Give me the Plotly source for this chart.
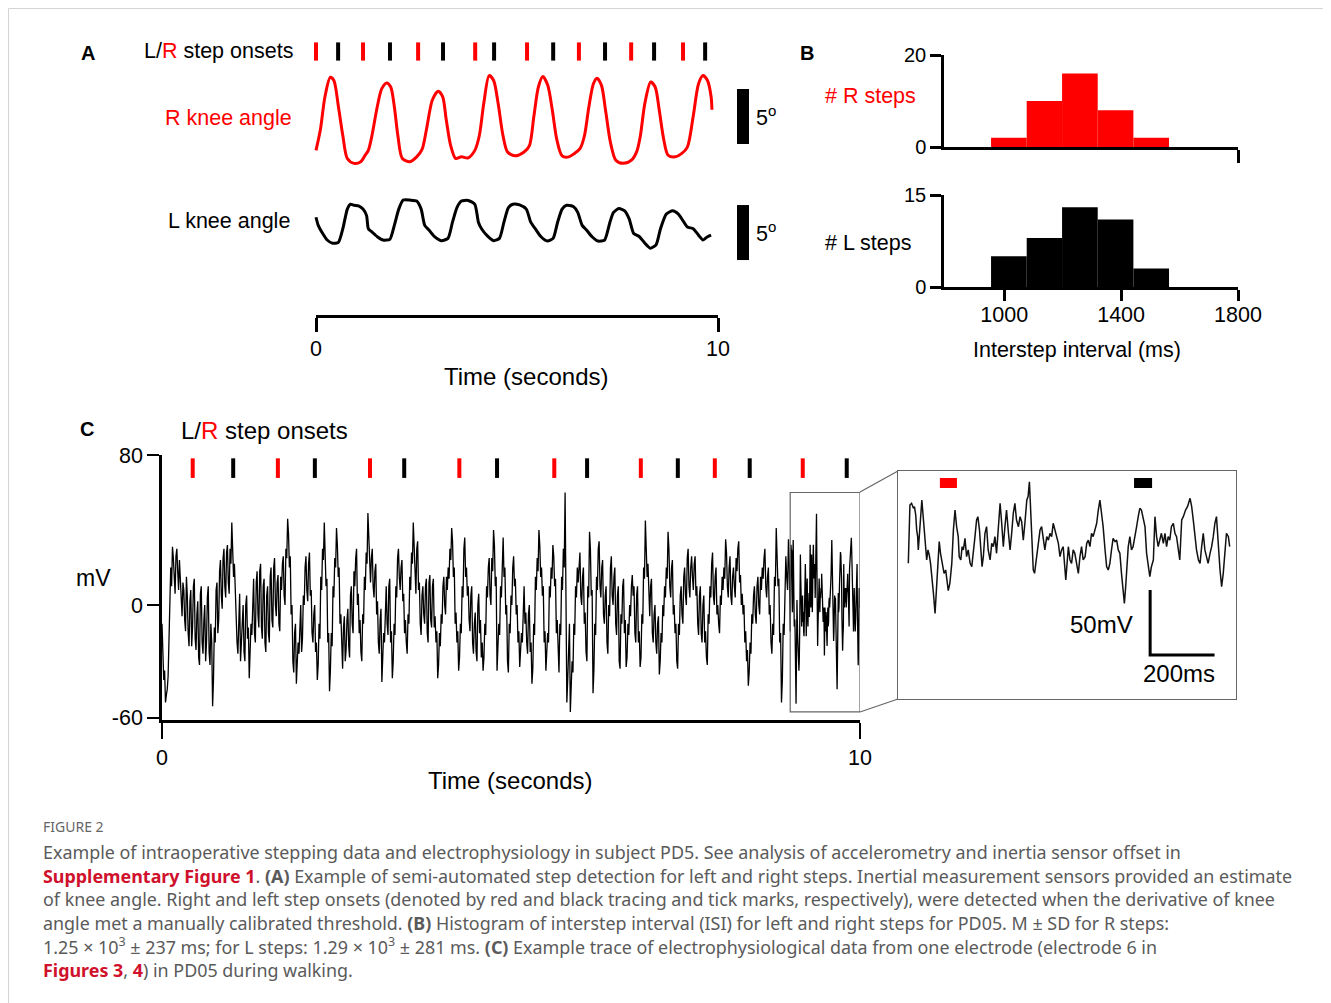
import numpy as np
import plotly.graph_objects as go

# The page body has an 8 px margin, so the figure is drawn at (8, 8).
OFF = 8
W, H = 1331 - OFF, 1003 - OFF

# ---------------- DATA ----------------
# Panel A: step onsets (s)
a_onsets_r = [0.0, 1.17, 2.54, 3.96, 5.25, 6.54, 7.84, 9.13]
a_onsets_l = [0.55, 1.84, 3.16, 4.43, 5.90, 7.19, 8.41, 9.68]

# R knee angle (s, deg)
r_knee_t = [0.000, 0.111, 0.223, 0.356, 0.445, 0.557, 0.668, 0.779, 0.946, 1.113, 1.224, 1.302, 1.391, 1.525,
            1.636, 1.759, 1.859, 1.948, 2.037, 2.148, 2.337, 2.504, 2.638, 2.749, 2.894, 3.038, 3.150, 3.239,
            3.350, 3.473, 3.617, 3.784, 3.951, 4.062, 4.174, 4.307, 4.419, 4.530, 4.652, 4.764, 4.953, 5.175,
            5.309, 5.420, 5.532, 5.643, 5.765, 5.877, 5.988, 6.122, 6.288, 6.422, 6.567, 6.678, 6.789, 6.901,
            6.990, 7.101, 7.201, 7.324, 7.457, 7.646, 7.847, 7.980, 8.069, 8.181, 8.325, 8.437, 8.537, 8.648,
            8.759, 8.937, 9.093, 9.238, 9.383, 9.516, 9.627, 9.739, 9.828, 9.850]
r_knee_deg = [1.33, 3.25, 6.21, 7.98, 7.68, 5.32, 2.66, 0.59, 0.15, 0.30, 0.89, 1.33, 2.66, 5.32,
              6.94, 7.45, 7.09, 5.32, 2.66, 0.59, 0.30, 0.74, 1.42, 3.25, 5.91, 6.71, 6.21, 4.14,
              1.77, 0.59, 0.74, 0.65, 1.33, 2.66, 5.61, 8.13, 7.68, 5.61, 2.66, 1.18, 0.83, 1.18,
              1.77, 4.43, 7.09, 8.04, 7.24, 5.02, 2.36, 0.83, 0.74, 1.03, 1.48, 2.66, 5.32, 7.39,
              7.89, 7.24, 5.02, 2.07, 0.44, 0.15, 0.44, 1.24, 2.66, 5.61, 7.54, 7.09, 5.02, 2.36,
              0.89, 0.74, 1.03, 1.63, 4.43, 7.39, 8.13, 7.68, 6.21, 5.02]

# L knee angle (s, deg)
l_knee_t = [0.000, 0.056, 0.167, 0.278, 0.412, 0.557, 0.668, 0.779, 0.857, 0.946, 1.057, 1.169, 1.258, 1.302,
            1.391, 1.525, 1.670, 1.836, 1.948, 2.059, 2.170, 2.337, 2.504, 2.616, 2.705, 2.816, 2.949, 3.116,
            3.283, 3.395, 3.506, 3.617, 3.784, 3.951, 4.040, 4.118, 4.263, 4.419, 4.563, 4.675, 4.786, 4.897,
            5.064, 5.231, 5.342, 5.454, 5.598, 5.754, 5.899, 6.010, 6.122, 6.233, 6.400, 6.511, 6.622, 6.734,
            6.867, 7.012, 7.179, 7.312, 7.401, 7.535, 7.680, 7.791, 7.902, 8.047, 8.181, 8.314, 8.459, 8.570,
            8.715, 8.871, 9.015, 9.127, 9.238, 9.383, 9.516, 9.627, 9.739, 9.828]
l_knee_deg = [3.25, 2.51, 1.77, 1.18, 0.89, 0.97, 2.21, 3.99, 4.43, 4.34, 4.28, 3.99, 3.40, 2.21,
              1.92, 1.48, 1.18, 1.24, 2.51, 3.99, 4.81, 4.81, 4.72, 3.99, 2.51, 2.07, 1.48, 1.12,
              1.33, 2.80, 4.13, 4.72, 4.78, 4.43, 2.80, 2.21, 1.56, 1.12, 1.33, 2.80, 4.13, 4.43,
              4.37, 3.99, 2.80, 2.21, 1.48, 1.09, 1.33, 2.80, 3.99, 4.34, 4.22, 3.69, 2.51, 2.07,
              1.48, 1.09, 1.18, 2.80, 3.69, 4.04, 3.84, 3.10, 1.77, 1.48, 0.89, 0.44, 0.74, 2.21,
              3.54, 3.84, 3.54, 2.95, 2.36, 2.21, 1.62, 1.18, 1.48, 1.62]

# Panel B: ISI histograms
isi_bin_centers_ms = [1016, 1138, 1259, 1381, 1503]
isi_bin_width_ms = 122
r_step_counts = [2, 10, 16, 8, 2]
l_step_counts = [5, 8, 13, 11, 3]

# Panel C: step onsets (s)
c_onsets_r = [0.44, 1.66, 2.98, 4.26, 5.62, 6.86, 7.92, 9.18]
c_onsets_l = [1.02, 2.19, 3.47, 4.80, 6.09, 7.39, 8.42, 9.81]

# Panel C: voltage trace 0-9 s, samples on the 25 ms grid (mV)
ephys_grid_mv = [
    -10, -40, -52, -45, -20, 20, 31, 12, 26, 18, 24, 5, 12, -8, 15, -15, 2, -22, 10, -18, -5, -28, 6, -20, -8, -30, 4, -25, -10, -54, -12, 8, -15, 18, 5, 25, 10, 28, 12, 30,
    44, 15, 5, -20, 2, -30, -8, -25, 0, -18, -39, -10, 8, -15, 12, -5, 18, -12, 10, -20, 5, -15, 15, -8, 20, 0, 12, -10, 15, 22, 5, 30, 46, 20, -5, -30, -15, -42, -20, -5,
    -25, 5, 20, 8, 22, 5, -15, -5, -25, -40, -10, 15, 30, 44, 10, -20, -46, -15, 10, 25, 41, 15, -10, -28, -12, -30, -8, -22, 5, -10, 18, 25, 0, -15, -25, -5, 15, 28, 49, 20,
    25, 10, 18, -5, -20, -8, -41, -15, 5, -10, 10, -20, -39, -10, 10, 25, 15, 20, 2, -15, -20, -5, 15, 28, 44, 12, 30, 8, -10, 5, -5, 10, -15, 12, -8, 10, -12, -20, -39, -15,
    -5, 10, 0, 15, 20, 30, 41, 15, -10, -20, -35, -10, 10, 30, 15, 5, -8, 5, -20, -10, -25, 0, -15, -28, -35, -10, 10, 20, 5, 25, 40, 10, -35, -10, 10, 30, 15, -5, -30, -10,
    5, 20, 10, -5, -20, -33, -15, 5, -10, -20, -5, -25, -42, -10, 15, 25, 40, 15, 5, -20, -35, -15, 10, 20, 32, 10, -15, -30, -10, 15, 30, 60, -52, -20, -57, -30, -10, 10, 20, 25,
    5, 15, -10, -25, 10, 39, 5, -47, -10, 15, 30, 10, 20, -5, 5, -20, 0, 20, 5, 15, -10, 5, -30, -5, 10, -15, -33, -10, 0, 10, 5, -15, 5, -20, -33, -5, 20, 45, 15, 0,
    10, -15, -5, -20, -10, -37, -15, 0, 10, 20, 39, 10, 20, -5, -15, -30, -10, 5, -5, 15, 5, 25, 10, 20, 15, 22, 5, -10, 5, -15, 0, -20, -28, -5, 10, 22, 5, 15, -5, -10,
    5, 15, 20, 35, 10, 20, 5, 15, 10, 25, 30, 12, 0, -5, -20, -30, -43, -20, -5, 5, -5, 10, 0, 15, 20, 25, 10, 15, -5, -20, -10, 15, 41, 10, -20, -52, -10, 20, 15, 35,
]
# samples half-way between the grid samples (12.5 ms later), mV
ephys_mid_mv = [
    -30, -35, -48, -38, -5, 10, 25, 6, 30, 8, 16, -6, 8, -14, 5, -22, 8, -12, 14, -24, 2, -32, 10, -26, 0, -20, 10, -32, -20, -40, -20, 12, -8, 24, -2, 30, 4, 32, 6, 22,
    28, 22, -2, -26, 6, -22, 0, -30, 5, -12, -28, -16, 14, -20, 18, -12, 22, -18, 14, -25, 10, -20, 20, -12, 25, -6, 16, -14, 8, 26, 0, 25, 38, 26, 0, -36, -10, -34, -26, 0,
    -18, 0, 26, 2, 28, 8, -20, 0, -20, -32, -18, 8, 24, 30, 14, -15, -35, -22, 4, 20, 32, 20, -5, -34, -6, -24, -2, -28, 10, -15, 10, 30, 6, -8, -30, -10, 8, 22, 35, 12,
    30, 4, 22, 2, -26, -2, -30, -20, 10, -16, 14, -14, -30, -16, 4, 30, 8, 24, 6, -8, -26, -10, 8, 22, 30, 6, 34, 12, -16, 10, -10, 14, -20, 16, -12, 14, -6, -14, -32, -22,
    -10, 15, -5, 8, 14, 24, 34, 20, -4, -14, -28, -15, 4, 36, 20, 10, -14, 10, -26, -4, -30, 6, -8, -20, -28, -16, 4, 25, 0, 18, 32, 15, -25, -16, 4, 36, 20, 0, -36, -15,
    0, 26, 14, 0, -14, -26, -20, 10, -4, -26, 0, -20, -34, -16, 8, 18, 32, 20, 10, -14, -28, -20, 4, 14, 26, 14, -8, -36, -16, 8, 20, 10, -40, -10, -45, -36, -16, 4, 12, 28,
    0, 20, -4, -30, 4, 30, 8, -35, -16, 8, 34, 4, 24, -10, 10, -26, -6, 26, 0, 20, -16, 10, -34, -10, 14, -8, -28, -16, -6, 16, 10, -20, 10, -14, -28, -10, 14, 34, 22, -6,
    14, -20, 0, -26, -6, -30, -20, -6, 4, 14, 30, 4, 24, 0, -10, -34, -16, 10, -10, 20, 0, 30, 4, 26, 8, 26, 10, -16, 10, -20, 5, -14, -32, -10, 4, 28, 0, 20, 0, -15,
    0, 8, 14, 28, 4, 26, 0, 20, 4, 18, 34, 16, 6, 0, -14, -24, -36, -26, -10, 10, -10, 15, -5, 8, 14, 30, 4, 20, 0, -26, -16, 10, 30, 14, -15, -40, -16, 26, 8, 20,
]
ephys_step_s = 0.025

# Panel C inset: 9-10 s at higher resolution (s, mV)
inset_t = [9.001, 9.003, 9.006, 9.011, 9.017, 9.020, 9.024, 9.027, 9.030, 9.032, 9.035, 9.039, 9.043, 9.048, 9.053,
           9.056, 9.058, 9.062, 9.066, 9.070, 9.075, 9.079, 9.084, 9.089, 9.093, 9.097, 9.101, 9.107, 9.112, 9.117,
           9.121, 9.125, 9.130, 9.136, 9.141, 9.146, 9.151, 9.156, 9.159, 9.164, 9.168, 9.172, 9.177, 9.182, 9.187,
           9.193, 9.198, 9.203, 9.208, 9.213, 9.217, 9.222, 9.226, 9.230, 9.234, 9.239, 9.244, 9.249, 9.255, 9.260,
           9.265, 9.270, 9.275, 9.281, 9.286, 9.291, 9.296, 9.301, 9.306, 9.312, 9.317, 9.322, 9.327, 9.332, 9.337,
           9.343, 9.348, 9.353, 9.358, 9.363, 9.369, 9.373, 9.377, 9.380, 9.384, 9.389, 9.393, 9.398, 9.402, 9.406,
           9.410, 9.415, 9.420, 9.425, 9.431, 9.436, 9.441, 9.446, 9.451, 9.457, 9.462, 9.467, 9.472, 9.477, 9.482,
           9.487, 9.490, 9.498, 9.503, 9.508, 9.513, 9.518, 9.524, 9.529, 9.534, 9.539, 9.544, 9.550, 9.555, 9.560,
           9.565, 9.570, 9.575, 9.581, 9.586, 9.591, 9.596, 9.601, 9.606, 9.612, 9.617, 9.622, 9.627, 9.632, 9.637,
           9.643, 9.648, 9.653, 9.658, 9.663, 9.668, 9.672, 9.676, 9.680, 9.684, 9.689, 9.694, 9.699, 9.705, 9.710,
           9.715, 9.720, 9.725, 9.731, 9.736, 9.741, 9.746, 9.751, 9.756, 9.762, 9.767, 9.772, 9.777, 9.782, 9.787,
           9.793, 9.798, 9.803, 9.808, 9.813, 9.818, 9.824, 9.829, 9.834, 9.839, 9.844, 9.850, 9.855, 9.862, 9.868,
           9.876, 9.881, 9.886, 9.891, 9.896, 9.902, 9.907, 9.912, 9.917, 9.922, 9.927, 9.932, 9.938, 9.943, 9.948,
           9.953, 9.958, 9.964, 9.969, 9.974, 9.979, 9.984, 9.989, 9.995, 9.999]
inset_mv = [-14.1, 19.2, 30.8, 32.1, 28.2, 29.5, 23.1, 11.5, 6.4, -3.8, 6.4, 26.9, 34.6, 19.2, 6.4,
            -6.4, -11.5, -3.8, -7.7, -14.1, -24.4, -37.2, -52.6, -32.1, -14.1, 2.6, -6.4, -16.7, -21.8, -19.2,
            -29.5, -35.1, -29.5, -14.1, 11.5, 26.9, 14.1, 6.4, -9.0, -11.5, -1.3, -3.8, 5.1, -9.0, -3.8,
            -14.1, -16.7, -6.4, 6.4, 19.2, 21.8, 11.5, -6.4, -16.7, -9.0, 9.0, 14.1, -3.8, -11.5, 1.3,
            -1.3, 6.4, -6.4, 11.5, 32.1, 16.7, -1.3, 14.1, 26.9, 9.0, -3.8, 9.0, 24.4, 32.1, 19.2,
            14.1, 21.8, 17.9, 3.8, 16.7, 34.6, 37.2, 48.7, 32.1, 6.4, -19.2, -21.8, -11.5, -1.3, 6.4,
            11.5, 14.1, 3.8, -3.8, 6.4, 3.8, 9.0, 6.4, 16.7, 11.5, 6.4, 1.3, -9.0, -3.8, -1.3,
            -14.1, -26.9, -1.3, -11.5, -14.1, -3.8, -6.4, -16.7, -21.8, -9.0, -1.3, -11.5, -9.0, 1.3, 3.8,
            -1.3, 9.0, 6.4, 11.5, 16.7, 26.9, 34.6, 24.4, 14.1, -3.8, -16.7, -19.2, -14.1, -3.8, 5.1,
            2.6, 3.8, -3.8, -6.4, -21.8, -37.2, -44.9, -32.1, -19.2, -1.3, 6.4, -3.8, -1.3, 9.0, 14.1,
            21.8, 28.2, 26.9, 19.2, 14.1, -6.4, -16.7, -24.4, -16.7, -11.5, 21.8, 6.4, -1.3, 3.8, 9.0,
            1.3, 9.0, -1.3, 6.4, 3.8, 14.1, 16.7, 9.0, 6.4, -3.8, -11.5, 19.2, 21.8, 26.9, 29.5,
            35.9, 29.5, 19.2, 6.4, -3.8, -11.5, -14.1, -1.3, 9.0, -3.8, -9.0, -14.1, -6.4, -1.3, 6.4,
            16.7, 21.8, -6.4, -19.2, -32.1, -21.8, -6.4, 9.0, 6.4, -1.3]
inset_onset_r = [9.099, 9.152]
inset_onset_l = [9.702, 9.758]

# ---------------- helpers (layout positions given in page pixels) ----------------
def px(x):
    return (x - OFF) / W

def py(y):
    return 1 - (y - OFF) / H

def dom_x(a, b):
    return [px(a), px(b)]

def dom_y(top, bottom):
    return [py(bottom), py(top)]

FONT = "Liberation Sans, Arial, sans-serif"
RED = "#ff0000"
LBL = 21.5
BIG = 24

fig = go.Figure()

# ---------------- Panel A ----------------
A_PX_PER_S = 40.2
ax_left = 316 - 0.2 * A_PX_PER_S
ax_right = 780
xa_range = [-0.2, (ax_right - 316) / A_PX_PER_S]

fig.add_trace(go.Scatter(x=a_onsets_r, y=[0.5] * len(a_onsets_r), mode="markers", xaxis="x", yaxis="y",
                         marker=dict(symbol="line-ns", size=13, line=dict(color=RED, width=4)),
                         cliponaxis=False, hoverinfo="skip", showlegend=False))
fig.add_trace(go.Scatter(x=a_onsets_l, y=[0.5] * len(a_onsets_l), mode="markers", xaxis="x", yaxis="y",
                         marker=dict(symbol="line-ns", size=13, line=dict(color="black", width=4)),
                         cliponaxis=False, hoverinfo="skip", showlegend=False))
fig.add_trace(go.Scatter(x=r_knee_t, y=r_knee_deg, mode="lines", xaxis="x", yaxis="y2",
                         line=dict(color=RED, width=3, shape="spline", smoothing=0.8),
                         hoverinfo="skip", showlegend=False))
fig.add_trace(go.Scatter(x=l_knee_t, y=l_knee_deg, mode="lines", xaxis="x", yaxis="y3",
                         line=dict(color="black", width=3, shape="spline", smoothing=0.6),
                         hoverinfo="skip", showlegend=False))
# 5 degree scale bars
SB_T = (743 - 316) / A_PX_PER_S
fig.add_trace(go.Scatter(x=[SB_T, SB_T], y=[1.91, 1.91 + 5], mode="lines", xaxis="x", yaxis="y2",
                         line=dict(color="black", width=12), hoverinfo="skip", showlegend=False))
fig.add_trace(go.Scatter(x=[SB_T, SB_T], y=[-0.64, -0.64 + 5], mode="lines", xaxis="x", yaxis="y3",
                         line=dict(color="black", width=12), hoverinfo="skip", showlegend=False))
# time axis carrier
fig.add_trace(go.Scatter(x=[0, 10], y=[0, 0], mode="lines", xaxis="x2", yaxis="y4",
                         line=dict(color="rgba(0,0,0,0)"), hoverinfo="skip", showlegend=False))

# ---------------- Panel B ----------------
fig.add_trace(go.Bar(x=isi_bin_centers_ms, y=r_step_counts, width=isi_bin_width_ms, xaxis="x3", yaxis="y5",
                     marker=dict(color=RED, line=dict(width=0)), hoverinfo="skip", showlegend=False))
fig.add_trace(go.Bar(x=isi_bin_centers_ms, y=l_step_counts, width=isi_bin_width_ms, xaxis="x4", yaxis="y6",
                     marker=dict(color="black", line=dict(width=0)), hoverinfo="skip", showlegend=False))

# ---------------- Panel C ----------------
main_t, main_v = [], []
for i, (g, m) in enumerate(zip(ephys_grid_mv, ephys_mid_mv)):
    main_t += [i * ephys_step_s, i * ephys_step_s + ephys_step_s / 2]
    main_v += [g, m]
main_t += inset_t
main_v += inset_mv
fig.add_trace(go.Scatter(x=main_t, y=main_v, mode="lines", xaxis="x5", yaxis="y7",
                         line=dict(color="black", width=1.3), hoverinfo="skip", showlegend=False))
ONSET_MV = 73
fig.add_trace(go.Scatter(x=c_onsets_r, y=[ONSET_MV] * len(c_onsets_r), mode="markers", xaxis="x5", yaxis="y7",
                         marker=dict(symbol="line-ns", size=14, line=dict(color=RED, width=4)),
                         cliponaxis=False, hoverinfo="skip", showlegend=False))
fig.add_trace(go.Scatter(x=c_onsets_l, y=[ONSET_MV] * len(c_onsets_l), mode="markers", xaxis="x5", yaxis="y7",
                         marker=dict(symbol="line-ns", size=14, line=dict(color="black", width=4)),
                         cliponaxis=False, hoverinfo="skip", showlegend=False))

# inset
fig.add_trace(go.Scatter(x=inset_t, y=inset_mv, mode="lines", xaxis="x6", yaxis="y8",
                         line=dict(color="#111111", width=1.5), hoverinfo="skip", showlegend=False))
fig.add_trace(go.Scatter(x=inset_onset_r, y=[47.7, 47.7], mode="lines", xaxis="x6", yaxis="y8",
                         line=dict(color=RED, width=10), hoverinfo="skip", showlegend=False))
fig.add_trace(go.Scatter(x=inset_onset_l, y=[47.7, 47.7], mode="lines", xaxis="x6", yaxis="y8",
                         line=dict(color="black", width=10), hoverinfo="skip", showlegend=False))
SB_X0, SB_Y0 = 9.752, -84.6
fig.add_trace(go.Scatter(x=[SB_X0, SB_X0, SB_X0 + 0.2], y=[SB_Y0 + 50, SB_Y0, SB_Y0], mode="lines",
                         xaxis="x6", yaxis="y8", line=dict(color="black", width=3),
                         hoverinfo="skip", showlegend=False))

# ---------------- axes ----------------
hidden = dict(visible=False, showgrid=False, zeroline=False, fixedrange=True)
axis_font = dict(family=FONT, size=LBL, color="black")

layout = dict(
    width=W, height=H, margin=dict(l=0, r=0, t=0, b=0),
    paper_bgcolor="white", plot_bgcolor="rgba(0,0,0,0)",
    template="none", showlegend=False, barmode="overlay",
    font=dict(family=FONT, color="black"),
    # Panel A
    xaxis=dict(hidden, domain=dom_x(ax_left, ax_right), range=xa_range, anchor="y"),
    yaxis=dict(hidden, domain=dom_y(42, 61), range=[0, 1], anchor="x"),
    yaxis2=dict(hidden, domain=dom_y(70, 170), range=[(165 - 170) / 11, (165 - 70) / 11], anchor="x"),
    yaxis3=dict(hidden, domain=dom_y(190, 270), range=[(253 - 270) / 11, (253 - 190) / 11], anchor="x"),
    xaxis2=dict(domain=dom_x(316, 718), range=[0, 10], anchor="y4", showline=True, linecolor="black",
                linewidth=2.5, ticks="outside", ticklen=14, tickwidth=2.5, tickcolor="black",
                tickvals=[0, 10], ticktext=["0", "10"], tickfont=axis_font, showgrid=False,
                zeroline=False, ticklabelstandoff=-2),
    yaxis4=dict(hidden, domain=dom_y(300, 315), range=[0, 1], anchor="x2"),
    # Panel B
    xaxis3=dict(domain=dom_x(944, 1238), range=[794, 1800], anchor="y5", showline=True, linecolor="black",
                linewidth=2.5, ticks="outside", ticklen=13, tickwidth=2.5, tickcolor="black",
                tickvals=[1800], showticklabels=False, showgrid=False, zeroline=False),
    yaxis5=dict(domain=dom_y(55, 147), range=[0, 20], anchor="x3", showline=True, linecolor="black",
                linewidth=2.5, ticks="outside", ticklen=11, tickwidth=2.5, tickcolor="black",
                tickvals=[0, 20], tickfont=dict(family=FONT, size=20), showgrid=False, zeroline=False),
    xaxis4=dict(domain=dom_x(944, 1238), range=[794, 1800], anchor="y6", showline=True, linecolor="black",
                linewidth=2.5, ticks="outside", ticklen=11, tickwidth=2.5, tickcolor="black",
                tickvals=[1000, 1400, 1800], tickfont=axis_font, showgrid=False, zeroline=False,
                ticklabelstandoff=-5),
    yaxis6=dict(domain=dom_y(195, 287), range=[0, 15], anchor="x4", showline=True, linecolor="black",
                linewidth=2.5, ticks="outside", ticklen=11, tickwidth=2.5, tickcolor="black",
                tickvals=[0, 15], tickfont=dict(family=FONT, size=20), showgrid=False, zeroline=False),
    # Panel C
    xaxis5=dict(domain=dom_x(162, 860), range=[0, 10], anchor="y7", showline=True, linecolor="black",
                linewidth=2.5, ticks="outside", ticklen=16, tickwidth=2, tickcolor="black",
                tickvals=[0, 10], tickfont=axis_font, showgrid=False, zeroline=False, ticklabelstandoff=0),
    yaxis7=dict(domain=dom_y(455, 720), range=[(605 - 720) / 1.875, 80], anchor="x5", showline=True,
                linecolor="black", linewidth=2.5, ticks="outside", ticklen=12, tickwidth=2,
                tickcolor="black", tickvals=[80, 0, -60], ticktext=["80", "0", "-60"],
                tickfont=axis_font, showgrid=False, zeroline=False),
    xaxis6=dict(domain=dom_x(898, 1236), range=[9.0 - 10 / 322, 10.0 + 6 / 322], anchor="y8",
                showline=True, mirror=True, linecolor="#666666", linewidth=1.2, ticks="",
                showticklabels=False, showgrid=False, zeroline=False),
    yaxis8=dict(domain=dom_y(471, 699), range=[(545 - 699) / 1.3, (545 - 471) / 1.3], anchor="x6",
                showline=True, mirror=True, linecolor="#666666", linewidth=1.2, ticks="",
                showticklabels=False, showgrid=False, zeroline=False),
)

shapes = [
    # outer frame (page edge lines)
    dict(type="line", xref="paper", yref="paper", x0=px(8.5), x1=1, y0=py(8.5), y1=py(8.5),
         line=dict(color="#d5d5d5", width=1)),
    dict(type="line", xref="paper", yref="paper", x0=px(8.5), x1=px(8.5), y0=py(8.5), y1=0,
         line=dict(color="#d5d5d5", width=1)),
    # zoom box
    dict(type="rect", xref="x5", yref="y7", x0=9.0, x1=10.0, y0=-57, y1=60,
         line=dict(color="#666666", width=1.2)),
    dict(type="line", xref="paper", yref="paper", x0=px(860), y0=py(492), x1=px(898), y1=py(471),
         line=dict(color="#666666", width=1.2)),
    dict(type="line", xref="paper", yref="paper", x0=px(860), y0=py(712), x1=px(898), y1=py(699),
         line=dict(color="#666666", width=1.2)),
]
layout["shapes"] = shapes


def ann(text, x, y, size=LBL, xanchor="center", color="black", bold=False, family=FONT):
    if bold:
        text = "<b>" + text + "</b>"
    return dict(text=text, x=px(x), y=py(y), xref="paper", yref="paper", xanchor=xanchor, yanchor="middle",
                showarrow=False, font=dict(family=family, size=size, color=color))


annotations = [
    ann("A", 88, 53, 20, bold=True),
    ann("L/<span style='color:#ff0000'>R</span> step onsets", 295, 51, LBL, xanchor="right"),
    ann("R knee angle", 294, 118, LBL, xanchor="right", color=RED),
    ann("L knee angle", 292, 221, LBL, xanchor="right"),
    ann("5<sup>o</sup>", 754, 116, LBL, xanchor="left"),
    ann("5<sup>o</sup>", 754, 232, LBL, xanchor="left"),
    ann("Time (seconds)", 526, 376, BIG),
    ann("B", 807, 53, 20, bold=True),
    ann("# R steps", 870, 96, LBL, color=RED),
    ann("# L steps", 868, 243, LBL),
    ann("Interstep interval (ms)", 1077, 350, LBL),
    ann("C", 87, 429, 20, bold=True),
    ann("L/<span style='color:#ff0000'>R</span> step onsets", 179, 430, BIG, xanchor="left"),
    ann("mV", 93, 578, 23),
    ann("Time (seconds)", 510, 780, BIG),
    ann("50mV", 1135, 624, BIG, xanchor="right"),
    ann("200ms", 1179, 673, BIG),
]

CAP = "Noto Sans, Open Sans, sans-serif"
CAPC = "#5a5a5a"
LINK = "#d0112b"
cap_lines = [
    "Example of intraoperative stepping data and electrophysiology in subject PD5. See analysis of accelerometry and inertia sensor offset in",
    f"<span style='color:{LINK}'><b>Supplementary Figure 1</b></span>. <b>(A)</b> Example of semi-automated step detection for left and right steps. Inertial measurement sensors provided an estimate",
    "of knee angle. Right and left step onsets (denoted by red and black tracing and tick marks, respectively), were detected when the derivative of knee",
    "angle met a manually calibrated threshold. <b>(B)</b> Histogram of interstep interval (ISI) for left and right steps for PD05. M ± SD for R steps:",
    "1.25 × 10<sup>3</sup> ± 237 ms; for L steps: 1.29 × 10<sup>3</sup> ± 281 ms. <b>(C)</b> Example trace of electrophysiological data from one electrode (electrode 6 in",
    f"<span style='color:{LINK}'><b>Figures 3</b></span>, <span style='color:{LINK}'><b>4</b></span>) in PD05 during walking.",
]
cap_y = [852, 876, 899, 923, 946, 970]
annotations.append(ann("FIGURE 2", 41, 826, 14, xanchor="left", color="#666666", family=CAP))
for t, yy in zip(cap_lines, cap_y):
    annotations.append(ann(t, 41, yy, 17.9, xanchor="left", color=CAPC, family=CAP))

layout["annotations"] = annotations
fig.update_layout(**layout)

fig.write_html("out.html")
